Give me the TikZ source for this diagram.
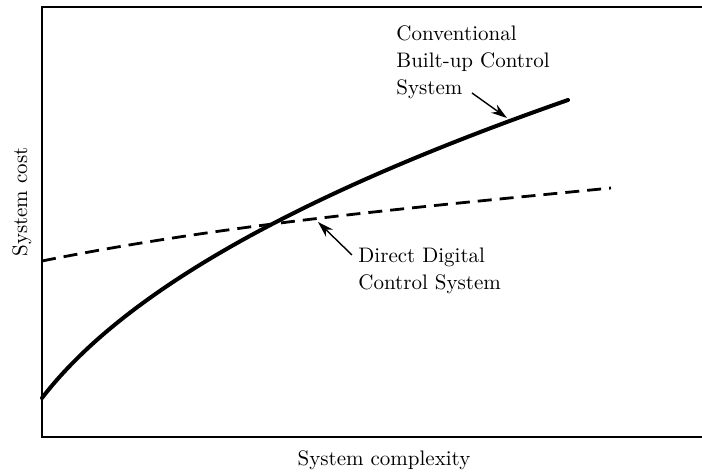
\documentclass[tikz,border=0pt]{standalone}
\usetikzlibrary{arrows.meta}
\begin{document}
\begin{tikzpicture}[x=0.5pt,y=-0.5pt,
  frame/.style={line width=0.7pt},
  costcurve/.style={line width=2pt, line cap=round},
  ddccurve/.style={line width=1.4pt, dash pattern=on 7pt off 4pt},
  lbl/.style={font=\fontsize{10.5}{13.5}\selectfont, inner sep=0pt, align=left},
  axlbl/.style={font=\fontsize{10.5}{13}\selectfont, inner sep=0pt},
  pointer/.style={line width=0.7pt, -{Stealth[length=8pt,width=5pt]}}]
\useasboundingbox (0,0) rectangle (702,474);
% frame
\draw[frame] (702,7) -- (42,7) -- (42,437) -- (702,437);
% conventional control system cost
\draw[costcurve] (42,398) .. controls (142,268) and (368,170) .. (568,100);
% direct digital control cost
\draw[ddccurve] (42,261) .. controls (232,223) and (421,207) .. (611,188);
% labels
\node[lbl, anchor=north west] (conv) at (396,25) {Conventional\\Built-up Control\\System};
\node[lbl, anchor=north west] (ddc) at (358,248) {Direct Digital\\Control System};
\coordinate (convfrom) at (472,93);
\coordinate (convto) at (507,118);
\coordinate (ddcfrom) at (352,255);
\coordinate (ddcto) at (318,222);
\draw[pointer] (convfrom) -- (convto);
\draw[pointer] (ddcfrom) -- (ddcto);
% axis labels
\node[axlbl, rotate=90] (ylab) at (22,202) {System cost};
\node[axlbl] (xlab) at (384,460) {System complexity};
\end{tikzpicture}
\end{document}
